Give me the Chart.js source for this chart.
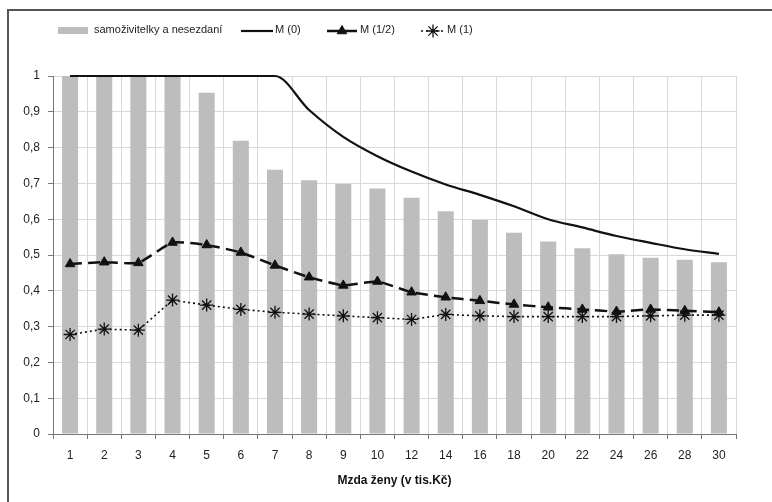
<!DOCTYPE html>
<html>
<head>
<meta charset="utf-8">
<script src="https://cdn.jsdelivr.net/npm/chart.js@4.4.0/dist/chart.umd.min.js"></script>
<style>
    html, body { margin: 0; padding: 0; background: #fff; }
    #wrap { position: relative; width: 772px; height: 502px; overflow: hidden; }
    #frame { position: absolute; left: 7px; top: 9px; width: 800px; height: 520px;
             border-top: 2px solid #555; border-left: 2px solid #555; pointer-events: none; }
</style>
</head>
<body>
<div id="wrap">
    <canvas id="chart" width="772" height="502"></canvas>
    <div id="frame"></div>
</div>
<script>
// wage of the woman (thousand CZK)
var categories = ['1', '2', '3', '4', '5', '6', '7', '8', '9', '10',
                  '12', '14', '16', '18', '20', '22', '24', '26', '28', '30'];
var singleMothers = [1, 1, 1, 1, 0.953, 0.819, 0.738, 0.709, 0.698, 0.686,
                     0.66, 0.622, 0.598, 0.562, 0.538, 0.519, 0.502, 0.492, 0.487, 0.48];
var m0 = [1, 1, 1, 1, 1, 1, 1, 0.905, 0.83, 0.776,
          0.733, 0.697, 0.668, 0.636, 0.6, 0.577, 0.553, 0.534, 0.516, 0.503];
var mHalf = [0.475, 0.48, 0.478, 0.535, 0.528, 0.507, 0.471, 0.438, 0.415, 0.426,
             0.396, 0.382, 0.372, 0.362, 0.354, 0.348, 0.342, 0.348, 0.344, 0.34];
var m1 = [0.278, 0.293, 0.29, 0.374, 0.36, 0.348, 0.34, 0.335, 0.33, 0.325,
          0.32, 0.334, 0.33, 0.328, 0.328, 0.328, 0.328, 0.33, 0.332, 0.332];
var seriesNames = ['samoživitelky a nesezdaní', 'M (0)', 'M (1/2)', 'M (1)'];
var xTitle = 'Mzda ženy (v tis.Kč)';

var fontFamily = '"Liberation Sans", Arial, sans-serif';

// legend drawn across the top, Excel style
var legendItems = [
    {index: 0, x: 58, w: 30, tx: 94},
    {index: 1, x: 241, w: 32, tx: 275},
    {index: 2, x: 327, w: 30, tx: 360},
    {index: 3, x: 421, w: 24, tx: 447}
];

var topLegend = {
    id: 'topLegend',
    afterDraw: function (chart) {
        var ctx = chart.ctx;
        var y = 30;
        ctx.save();
        ctx.font = '11px ' + fontFamily;
        ctx.textBaseline = 'middle';
        legendItems.forEach(function (item) {
            var ds = chart.data.datasets[item.index];
            if (ds.type === 'bar') {
                ctx.fillStyle = ds.backgroundColor;
                ctx.fillRect(item.x, y - 3, item.w, 7);
            } else {
                ctx.strokeStyle = ds.borderColor;
                ctx.lineWidth = ds.borderWidth;
                ctx.setLineDash(ds.borderDash || []);
                ctx.beginPath();
                ctx.moveTo(item.x, y + 1);
                ctx.lineTo(item.x + item.w, y + 1);
                ctx.stroke();
                ctx.setLineDash([]);
                if (ds.pointRadius > 0 && Chart.helpers && Chart.helpers.drawPoint) {
                    ctx.fillStyle = ds.pointBackgroundColor;
                    ctx.strokeStyle = ds.pointBorderColor;
                    ctx.lineWidth = ds.pointBorderWidth;
                    Chart.helpers.drawPoint(ctx, {
                        pointStyle: ds.pointStyle,
                        radius: ds.pointRadius,
                        borderWidth: ds.pointBorderWidth,
                        rotation: 0
                    }, item.x + item.w / 2, y + 1);
                }
            }
            ctx.fillStyle = '#222';
            ctx.fillText(ds.label, item.tx, y);
        });
        ctx.restore();
    }
};

var ctx = document.getElementById('chart').getContext('2d');
new Chart(ctx, {
    data: {
        labels: categories,
        datasets: [{
            type: 'bar',
            label: seriesNames[0],
            data: singleMothers,
            backgroundColor: '#bdbdbd',
            borderWidth: 0,
            categoryPercentage: 1,
            barPercentage: 0.47,
            order: 10
        }, {
            type: 'line',
            label: seriesNames[1],
            data: m0,
            borderColor: '#111',
            borderWidth: 2.2,
            pointRadius: 0,
            cubicInterpolationMode: 'monotone',
            fill: false,
            clip: 4,
            order: 3
        }, {
            type: 'line',
            label: seriesNames[2],
            data: mHalf,
            borderColor: '#111',
            borderWidth: 2.5,
            borderDash: [12, 6],
            pointStyle: 'triangle',
            pointRadius: 5.5,
            pointBackgroundColor: '#111',
            pointBorderColor: '#111',
            pointBorderWidth: 1,
            tension: 0.15,
            fill: false,
            order: 2
        }, {
            type: 'line',
            label: seriesNames[3],
            data: m1,
            borderColor: '#111',
            borderWidth: 1.6,
            borderDash: [2, 3],
            pointStyle: 'star',
            pointRadius: 6.5,
            pointBackgroundColor: '#111',
            pointBorderColor: '#111',
            pointBorderWidth: 1.3,
            tension: 0,
            fill: false,
            order: 1
        }]
    },
    options: {
        responsive: false,
        animation: false,
        devicePixelRatio: 1,
        layout: {padding: {top: 76, right: 36, left: 0, bottom: 0}},
        plugins: {
            legend: {display: false},
            tooltip: {enabled: false}
        },
        scales: {
            x: {
                grid: {color: '#d9d9d9', tickColor: '#777', tickLength: 5, offset: true},
                border: {color: '#777', width: 1},
                ticks: {color: '#222', padding: 9, font: {family: fontFamily, size: 12}},
                title: {
                    display: true,
                    text: xTitle,
                    color: '#111',
                    font: {family: fontFamily, size: 12, weight: 'bold'},
                    padding: {top: 4, bottom: 14}
                },
                afterFit: function (scale) { scale.height = 68; }
            },
            y: {
                min: 0,
                max: 1,
                ticks: {
                    stepSize: 0.1,
                    color: '#222',
                    padding: 8,
                    font: {family: fontFamily, size: 12},
                    callback: function (v) {
                        if (v === 0 || v === 1) return String(v);
                        return v.toFixed(1).replace('.', ',');
                    }
                },
                grid: {color: '#d9d9d9', tickColor: '#777', tickLength: 5},
                border: {color: '#777', width: 1},
                afterFit: function (scale) { scale.width = 53; }
            }
        }
    },
    plugins: [topLegend]
});
</script>
</body>
</html>
